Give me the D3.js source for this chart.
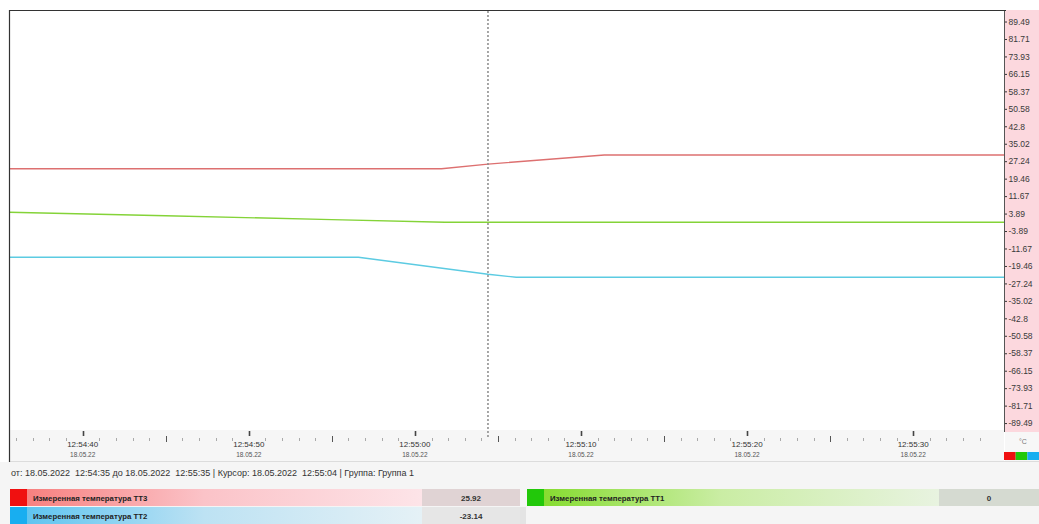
<!DOCTYPE html>
<html>
<head>
<meta charset="utf-8">
<script src="https://cdn.jsdelivr.net/npm/d3@7"></script>
<style>
  html, body { margin: 0; padding: 0; background: #ffffff; }
  svg { display: block; font-family: "Liberation Sans", Arial, sans-serif; }
</style>
</head>
<body>
<svg id="chart" width="1039" height="524"></svg>
<script>
// ---- data -------------------------------------------------------------
const rangeStart = "2022-05-18 12:54:35.000";
const rangeEnd   = "2022-05-18 12:55:35.000";
const cursorAt   = "2022-05-18 12:55:04.400";
const groupName  = "Группа 1";
const unitLabel  = "°C";

const tt3Times  = ["2022-05-18 12:54:35.000", "2022-05-18 12:55:01.600", "2022-05-18 12:55:04.400", "2022-05-18 12:55:11.400", "2022-05-18 12:55:36.000"];
const tt3Values = [23.9, 23.9, 25.92, 30.0, 30.0];

const tt1Times  = ["2022-05-18 12:54:35.000", "2022-05-18 12:54:45.000", "2022-05-18 12:54:55.000", "2022-05-18 12:55:01.800", "2022-05-18 12:55:04.400", "2022-05-18 12:55:36.000"];
const tt1Values = [4.6, 2.9, 1.2, 0, 0, 0];

const tt2Times  = ["2022-05-18 12:54:35.000", "2022-05-18 12:54:56.600", "2022-05-18 12:55:04.400", "2022-05-18 12:55:06.100", "2022-05-18 12:55:36.000"];
const tt2Values = [-15.6, -15.6, -23.14, -24.5, -24.5];

const seriesNames = ["Измеренная температура ТТ3", "Измеренная температура ТТ1", "Измеренная температура ТТ2"];

const yTickValues = [89.49, 81.71, 73.93, 66.15, 58.37, 50.58, 42.8, 35.02, 27.24, 19.46, 11.67, 3.89,
                     -3.89, -11.67, -19.46, -27.24, -35.02, -42.8, -50.58, -58.37, -66.15, -73.93, -81.71, -89.49];
const yDomain = [-93.38, 93.38];

// ---- helpers ----------------------------------------------------------
const parse = d3.timeParse("%Y-%m-%d %H:%M:%S.%L");
const t0 = parse(rangeStart), t1 = parse(rangeEnd), tc = parse(cursorAt);
const zip = (ts, vs) => ts.map((t, i) => ({ t: parse(t), v: vs[i] }));

const series = [
  { name: seriesNames[0], data: zip(tt3Times, tt3Values), line: "#dd7070", swatch: "#f01010",
    grad: ["#f7807f", "#fbc3c8", "#fde4e8"], cell: "#e0d3d4" },
  { name: seriesNames[1], data: zip(tt1Times, tt1Values), line: "#84d338", swatch: "#22c80a",
    grad: ["#86dc30", "#caeda4", "#e8f3e0"], cell: "#d5dad1" },
  { name: seriesNames[2], data: zip(tt2Times, tt2Values), line: "#5ccbe2", swatch: "#18aef0",
    grad: ["#5ec4f0", "#bde2f3", "#e5f1f6"], cell: "#e6e6e6" }
];

// ---- layout -----------------------------------------------------------
const plot = { left: 9, top: 10, right: 1004, bottom: 432 };
const svg = d3.select("#chart");

const x = d3.scaleTime().domain([t0, t1]).range([-0.35, 996.25]);
const y = d3.scaleLinear().domain(yDomain).range([431.8, 12.8]);

// backgrounds
svg.append("rect").attr("x", 0).attr("y", 0).attr("width", 1039).attr("height", 524).attr("fill", "#ffffff");
svg.append("rect").attr("x", plot.left).attr("y", plot.bottom - 2).attr("width", plot.right - plot.left)
  .attr("height", 461 - plot.bottom + 2).attr("fill", "#f6f6f6");
svg.append("rect").attr("x", plot.left).attr("y", plot.top).attr("width", plot.right - plot.left)
  .attr("height", plot.bottom - 2 - plot.top).attr("fill", "#ffffff");
svg.append("line").attr("x1", plot.left).attr("x2", 1039).attr("y1", 461.5).attr("y2", 461.5).attr("stroke", "#dcdcdc");
svg.append("rect").attr("x", 0).attr("y", 462).attr("width", 1039).attr("height", 62).attr("fill", "#f5f5f5");

// right axis panel
svg.append("rect").attr("x", plot.right).attr("y", plot.top).attr("width", 1039 - plot.right)
  .attr("height", plot.bottom - plot.top).attr("fill", "#fcd8de");

// clip for the series
svg.append("clipPath").attr("id", "plotClip").append("rect")
  .attr("x", plot.left).attr("y", plot.top).attr("width", plot.right - plot.left).attr("height", plot.bottom - plot.top);

const lineGen = d3.line().x(d => x(d.t)).y(d => y(d.v));
svg.append("g").attr("clip-path", "url(#plotClip)")
  .selectAll("path").data(series).join("path")
  .attr("d", d => lineGen(d.data))
  .attr("fill", "none")
  .attr("stroke", d => d.line)
  .attr("stroke-width", 1.4);

// time ticks along the bottom
const seconds = d3.timeSecond.range(t0, t1).filter(t => x(t) > plot.left + 2 && x(t) < plot.right - 2);
const tickG = svg.append("g");
seconds.forEach(t => {
  const s = t.getSeconds();
  const px = Math.round(x(t)) + 0.5;
  if (s % 10 === 0) {
    tickG.append("line").attr("x1", px).attr("x2", px).attr("y1", 431).attr("y2", 436)
      .attr("stroke", "#444").attr("stroke-width", 1.6);
  } else if (s % 5 === 0) {
    tickG.append("line").attr("x1", px).attr("x2", px).attr("y1", 436).attr("y2", 442)
      .attr("stroke", "#555").attr("stroke-width", 1);
  } else {
    tickG.append("line").attr("x1", px).attr("x2", px).attr("y1", 438).attr("y2", 441)
      .attr("stroke", "#aaa").attr("stroke-width", 1);
  }
});
const fmtTime = d3.timeFormat("%H:%M:%S");
const fmtShortDate = d3.timeFormat("%d.%m.%y");
const majors = seconds.filter(t => t.getSeconds() % 10 === 0);
const labG = svg.append("g").attr("text-anchor", "middle");
labG.selectAll("text.time").data(majors).join("text").attr("class", "time")
  .attr("x", d => x(d)).attr("y", 447).attr("font-size", 8).attr("fill", "#333").text(fmtTime);
labG.selectAll("text.date").data(majors).join("text").attr("class", "date")
  .attr("x", d => x(d)).attr("y", 457).attr("font-size", 6.5).attr("fill", "#555").text(fmtShortDate);

// cursor
svg.append("line").attr("x1", x(tc)).attr("x2", x(tc)).attr("y1", plot.top + 1).attr("y2", 437)
  .attr("stroke", "#8a8a8a").attr("stroke-width", 1.5).attr("stroke-dasharray", "2,2");

// value axis on the right
const yAxis = d3.axisRight(y).tickValues(yTickValues).tickSize(3).tickPadding(1.5).tickFormat(d => String(d));
const yG = svg.append("g").attr("transform", `translate(${plot.right},0)`).call(yAxis);
yG.select(".domain").remove();
yG.selectAll(".tick line").attr("stroke", "#333");
yG.selectAll(".tick text").attr("font-size", 8.5).attr("fill", "#3a3a3a").attr("font-family", "Liberation Sans, Arial, sans-serif");
svg.append("line").attr("x1", plot.right + 0.5).attr("x2", plot.right + 0.5).attr("y1", plot.top).attr("y2", plot.bottom)
  .attr("stroke", "#555").attr("stroke-width", 1);

// unit and colour key under the value axis
svg.append("rect").attr("x", plot.right + 1).attr("y", plot.bottom).attr("width", 1039 - plot.right - 1)
  .attr("height", 29).attr("fill", "#f7f7f7");
svg.append("text").attr("x", 1023).attr("y", 444).attr("text-anchor", "middle").attr("font-size", 7)
  .attr("fill", "#777").text(unitLabel);
const keyW = (1039 - plot.right) / series.length;
svg.selectAll("rect.key").data(series).join("rect").attr("class", "key")
  .attr("x", (d, i) => plot.right + i * keyW).attr("y", 452).attr("width", keyW).attr("height", 8)
  .attr("fill", d => d.swatch);

// frame
svg.append("line").attr("x1", plot.left + 0.5).attr("x2", plot.left + 0.5).attr("y1", plot.top).attr("y2", 462)
  .attr("stroke", "#333").attr("stroke-width", 1.2);
svg.append("line").attr("x1", plot.left).attr("x2", plot.right + 2).attr("y1", plot.top + 0.5).attr("y2", plot.top + 0.5)
  .attr("stroke", "#333").attr("stroke-width", 1.2);

// status line
const fmtFull = d3.timeFormat("%d.%m.%Y  %H:%M:%S");
svg.append("text").attr("x", 11).attr("y", 476).attr("font-size", 9).attr("fill", "#333")
  .style("white-space", "pre")
  .text(`от: ${fmtFull(t0)} до ${fmtFull(t1)} | Курсор: ${fmtFull(tc)} | Группа: ${groupName}`);

// legend rows with values at the cursor
const valueAtCursor = s => s.data.find(d => +d.t === +tc).v;
const cells = [
  { s: series[0], x0: 9, x1: 520, y0: 489, valueX: 422 },
  { s: series[1], x0: 526, x1: 1039, y0: 489, valueX: 939 },
  { s: series[2], x0: 9, x1: 520, y0: 507, valueX: 422 }
];
const defs = svg.append("defs");
svg.append("rect").attr("x", 520).attr("y", 507).attr("width", 6).attr("height", 17).attr("fill", "#e4e4e4");
cells.forEach((c, i) => {
  const gid = "lg" + i;
  const g = defs.append("linearGradient").attr("id", gid).attr("x1", 0).attr("x2", 1).attr("y1", 0).attr("y2", 0);
  g.append("stop").attr("offset", "0%").attr("stop-color", c.s.grad[0]);
  g.append("stop").attr("offset", "45%").attr("stop-color", c.s.grad[1]);
  g.append("stop").attr("offset", "100%").attr("stop-color", c.s.grad[2]);
  const h = 17;
  svg.append("rect").attr("x", c.x0 + 17).attr("y", c.y0).attr("width", c.valueX - c.x0 - 17).attr("height", h)
    .attr("fill", `url(#${gid})`);
  svg.append("rect").attr("x", c.valueX).attr("y", c.y0).attr("width", c.x1 - c.valueX).attr("height", h)
    .attr("fill", c.s.cell);
  svg.append("rect").attr("x", c.x0 + 1).attr("y", c.y0).attr("width", 17).attr("height", h).attr("fill", c.s.swatch);
  svg.append("text").attr("x", c.x0 + 24).attr("y", c.y0 + 11.5).attr("font-size", 7.8).attr("font-weight", "bold")
    .attr("fill", "#222").text(c.s.name);
  svg.append("text").attr("x", (c.valueX + c.x1) / 2).attr("y", c.y0 + 11.5).attr("font-size", 8)
    .attr("font-weight", "bold").attr("text-anchor", "middle").attr("fill", "#333")
    .text(String(valueAtCursor(c.s)));
});
</script>
</body>
</html>
